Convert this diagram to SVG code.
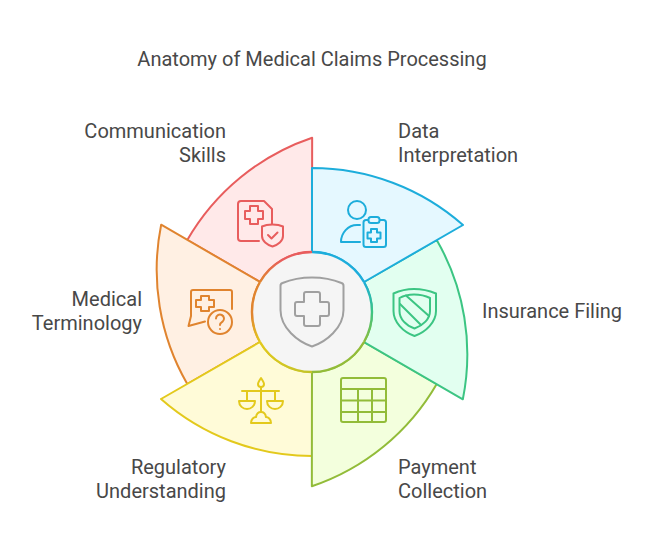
<svg xmlns="http://www.w3.org/2000/svg" width="648" height="552" viewBox="0 0 648 552">
<style>
text{font-family:Roboto,"Liberation Sans",sans-serif;font-size:20px;fill:#484848}
.e{text-anchor:end}
.w{stroke-width:2;stroke-linejoin:round}
.i{fill:none;stroke-width:2;stroke-linecap:round;stroke-linejoin:round}
.arc{fill:none;stroke-width:2.4}
</style>
<defs>
<path id="wedge" d="M312 252V168A228.5 228.5 0 0 1 463 225L364 282A60 60 0 0 0 312 252Z"/>
<linearGradient id="g1" gradientUnits="userSpaceOnUse" x1="364" y1="282" x2="372" y2="312"><stop offset="0" stop-color="#1DADDB"/><stop offset="1" stop-color="#3CC583"/></linearGradient>
<linearGradient id="g2" gradientUnits="userSpaceOnUse" x1="372" y1="312" x2="364" y2="342"><stop offset="0" stop-color="#3CC583"/><stop offset="1" stop-color="#92BC39"/></linearGradient>
<linearGradient id="g3" gradientUnits="userSpaceOnUse" x1="364" y1="342" x2="312" y2="372"><stop offset="0" stop-color="#92BC39"/><stop offset="1" stop-color="#92BC39"/></linearGradient>
<linearGradient id="g4" gradientUnits="userSpaceOnUse" x1="312" y1="372" x2="260" y2="342"><stop offset="0" stop-color="#C2C32A"/><stop offset="1" stop-color="#E3C91C"/></linearGradient>
<linearGradient id="g5" gradientUnits="userSpaceOnUse" x1="260" y1="342" x2="260" y2="282"><stop offset="0" stop-color="#E3C91C"/><stop offset="0.45" stop-color="#E0842F"/><stop offset="1" stop-color="#E0842F"/></linearGradient>
<linearGradient id="g6" gradientUnits="userSpaceOnUse" x1="260" y1="282" x2="312" y2="252"><stop offset="0" stop-color="#E0842F"/><stop offset="0.5" stop-color="#E85D5D"/><stop offset="1" stop-color="#E85D5D"/></linearGradient>
</defs>
<text x="312" y="66" text-anchor="middle" id="title">Anatomy of Medical Claims Processing</text>
<g id="connectors"></g>
<g id="node-communication">
<use href="#wedge" transform="rotate(300 312 312)" class="w" fill="#FFE9E9" stroke="#E85D5D"/>
<g class="i" stroke="#E85D5D">
<path d="M259 241H241a3 3 0 0 1-3-3V204a3 3 0 0 1 3-3H264l8 8V224"/>
<path d="M250 206h8v5h5v8h-5v5h-8v-5h-5v-8h5z"/>
<path d="M272.500 224.500C268 224.500 265 225 262 226.500V236C262 241 267 245 272.500 246.500C278 245 283 241 283 236V226.500C280 225 277 224.500 272.500 224.500Z"/>
<path d="M268 235l3.500 3.500l6-6"/>
</g>
<text class="e" x="226" y="138">Communication</text><text class="e" x="226" y="162">Skills</text>
</g>
<g id="node-terminology">
<use href="#wedge" transform="rotate(240 312 312)" class="w" fill="#FFF0E3" stroke="#E0842F"/>
<g class="i" stroke="#E0842F">
<path d="M232 309V292a2 2 0 0 0-2-2H193a2 2 0 0 0-2 2V316L188.500 326L205 321.500"/>
<path d="M201 296h8v4h5v7h-5v4h-8v-4h-5v-7h5z"/>
<circle cx="220" cy="322" r="12"/>
<path d="M216 318.500a4 4 0 1 1 6.500 3.200c-1.500 1-2.500 2-2.500 3.300"/>
<path d="M220 329h.01"/>
</g>
<text class="e" x="142" y="306">Medical</text><text class="e" x="142" y="330">Terminology</text>
</g>
<g id="node-regulatory">
<use href="#wedge" transform="rotate(180 312 312)" class="w" fill="#FFFBD8" stroke="#E3C91C"/>
<g class="i" stroke="#E3C91C">
<path d="M261 378C259 381 258 383 258 384C258 386 259.500 387 261 387C262.500 387 264 386 264 384C264 383 263 381 261 378Z"/>
<path d="M261 387V412M242 391H279M247 391V401M275 391V401"/>
<path d="M239 401H255C255 406 251 409 247 409C243 409 239 406 239 401Z"/>
<path d="M267 401H283C283 406 279 409 275 409C271 409 267 406 267 401Z"/>
<path d="M251 423H271C271 419 268 417 266 417C265.500 414 264 412 261 412C258 412 256.500 414 256 417C254 417 251 419 251 423Z"/>
</g>
<text class="e" x="226" y="474">Regulatory</text><text class="e" x="226" y="498">Understanding</text>
</g>
<g id="node-payment">
<use href="#wedge" transform="rotate(120 312 312)" class="w" fill="#F3FFDD" stroke="#92BC39"/>
<g class="i" stroke="#92BC39">
<rect x="341" y="378" width="45" height="44" rx="2"/>
<path d="M341 389H386M341 400.500H386M341 412H386M358 389V422M372 389V422"/>
</g>
<text x="398" y="474">Payment</text><text x="398" y="498">Collection</text>
</g>
<g id="node-insurance">
<use href="#wedge" transform="rotate(60 312 312)" class="w" fill="#E2FFF0" stroke="#3CC583"/>
<g class="i" stroke="#3CC583">
<path d="M414 289C406 289 399 291 393.500 293.500V311C393.500 322 403 332 414.500 336C426 332 436 322 436 311V293.500C430 291 423 289 414 289Z"/>
<path d="M414 294.500C408 294.500 403 296 399.500 298V311C399.500 319 406 325.500 414.500 328.500C423 325.500 430 319 430 311V298C426 296 421 294.500 414 294.500Z"/>
<path d="M406 295.500L429 316M400 304L421 325"/>
</g>
<text x="482" y="318">Insurance Filing</text>
</g>
<g id="node-data">
<use href="#wedge" class="w" fill="#E5F8FF" stroke="#1DADDB"/>
<g class="i" stroke="#1DADDB">
<circle cx="357" cy="210" r="9"/>
<path d="M360 225H357C348 225 341 233 341 242H360"/>
<rect x="363.500" y="220" width="22.500" height="27" rx="2.500"/>
<rect x="368.500" y="217" width="11" height="6" rx="2.500" fill="#E5F8FF"/>
<path d="M371 229h6v3.500h3.500v6h-3.500v3.500h-6v-3.500h-3.500v-6h3.500z"/>
</g>
<text x="398" y="138">Data</text><text x="398" y="162">Interpretation</text>
</g>
<g id="node-center">
<circle cx="312" cy="312" r="60" fill="#F5F5F5"/>
<path class="arc" stroke="#1DADDB" d="M312 252A60 60 0 0 1 364 282"/>
<path class="arc" stroke="url(#g1)" d="M364 282A60 60 0 0 1 372 312"/>
<path class="arc" stroke="url(#g2)" d="M372 312A60 60 0 0 1 364 342"/>
<path class="arc" stroke="url(#g3)" d="M364 342A60 60 0 0 1 312 372"/>
<path class="arc" stroke="url(#g4)" d="M312 372A60 60 0 0 1 260 342"/>
<path class="arc" stroke="url(#g5)" d="M260 342A60 60 0 0 1 260 282"/>
<path class="arc" stroke="url(#g6)" d="M260 282A60 60 0 0 1 312 252"/>
<g class="i" stroke="#A0A0A0">
<path d="M312 277.500C302 277.500 291 279.500 282.500 283A3 3 0 0 0 280.500 286V310C280.500 328 298 342 312 346.500C326 342 343.500 328 343.500 310V286A3 3 0 0 0 341.500 283C333 279.500 322 277.500 312 277.500Z"/>
<path d="M306 292H318a2 2 0 0 1 2 2V302H327a2 2 0 0 1 2 2V314a2 2 0 0 1-2 2H320V324a2 2 0 0 1-2 2H306a2 2 0 0 1-2-2V316H297a2 2 0 0 1-2-2V304a2 2 0 0 1 2-2H304V294a2 2 0 0 1 2-2Z"/>
</g>
</g>
</svg>
